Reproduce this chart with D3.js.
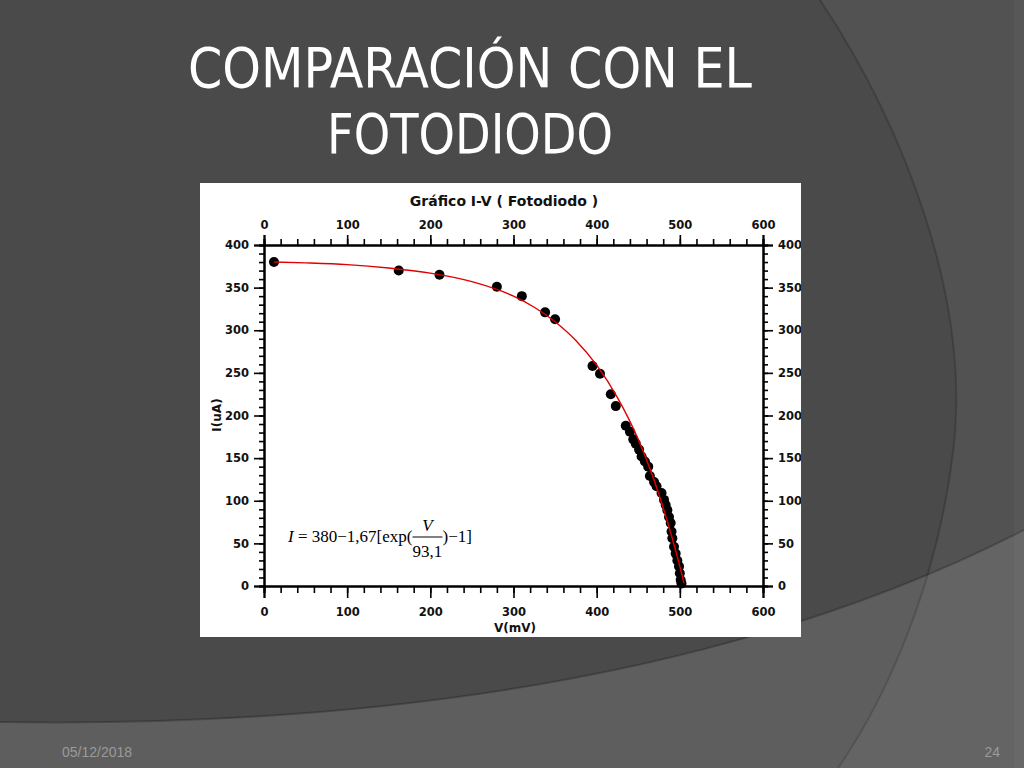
<!DOCTYPE html>
<html><head><meta charset="utf-8">
<script src="https://cdn.jsdelivr.net/npm/d3@7"></script>
<style>html,body{margin:0;padding:0;background:#4b4b4b;overflow:hidden}</style>
</head><body>
<svg id="c" width="1024" height="768"></svg>
<script>
// ---- data ----
const pointsV = [12, 162, 211, 280, 310, 338, 350, 395, 404, 417, 423, 435, 440, 444, 447, 451, 454, 458, 462, 464, 469, 472, 478, 481, 483, 485, 487, 489, 490, 491, 493, 495, 497, 499, 500, 501, 502];
const pointsI = [380, 370, 365, 351, 340, 321, 313, 258, 249, 225, 211, 188, 181, 172, 167, 160, 152, 146, 140, 129, 122, 117, 109, 101, 95, 89, 81, 74, 64, 56, 46, 38, 30, 23, 15, 7, 3];
const fitV = [12, 50, 100, 150, 200, 250, 300, 325, 350, 375, 400, 425, 450, 475, 490, 500, 505];
const fitI = [380, 379, 377, 373, 367, 357, 340, 327, 310, 288, 259, 221, 172, 107, 59, 23, 3];
const xTicks = [0, 100, 200, 300, 400, 500, 600];
const yTicks = [0, 50, 100, 150, 200, 250, 300, 350, 400];
const slideTitle = ["COMPARACIÓN CON EL", "FOTODIODO"];
const chartTitle = "Gráfico I-V ( Fotodiodo )";
const xLabel = "V(mV)";
const yLabel = "I(uA)";
const footerDate = "05/12/2018";
const footerPage = "24";

const svg = d3.select("#c");

// ---- slide background ----
svg.append("rect").attr("width",1024).attr("height",768).attr("fill","#4a4a4a");
const arcD = "M820,0 C900,120 975,300 952,460 C935,590 885,700 838,768";
svg.append("path").attr("d",arcD+" L1024,768 L1024,0 Z").attr("fill","#525252");
svg.append("path").attr("d",arcD).attr("fill","none").attr("stroke","rgba(0,0,0,0.18)").attr("stroke-width",2);
const bandD = "M0,722 C400,728 750,670 1024,530";
svg.append("path").attr("d",bandD+" L1024,768 L0,768 Z").attr("fill","#5e5e5e");
svg.append("path").attr("d",bandD).attr("fill","none").attr("stroke","rgba(0,0,0,0.22)").attr("stroke-width",2);
svg.append("clipPath").attr("id","band").append("path").attr("d",bandD+" L1024,768 L0,768 Z");
svg.append("path").attr("clip-path","url(#band)").attr("d",arcD+" L1024,768 L1024,0 Z").attr("fill","rgba(255,255,255,0.04)");
svg.append("path").attr("clip-path","url(#band)").attr("d",arcD).attr("fill","none").attr("stroke","rgba(0,0,0,0.15)").attr("stroke-width",2);
svg.append("rect").attr("x",1014).attr("y",0).attr("width",10).attr("height",768).attr("fill","rgba(255,255,255,0.03)");

// slide title
slideTitle.forEach((t,i)=>{
  svg.append("text").attr("x",470).attr("y",[87,153][i]).attr("text-anchor","middle")
    .attr("font-family","'DejaVu Sans Condensed','DejaVu Sans',sans-serif").attr("font-size",56)
    .attr("fill","#ffffff").attr("textLength",[564,286][i]).attr("lengthAdjust","spacingAndGlyphs").text(t);
});

// footer
svg.append("text").attr("x",62).attr("y",757).attr("font-family","'Liberation Sans',Arial,sans-serif").attr("font-size",14).attr("fill","#9a9a9a").text(footerDate);
svg.append("text").attr("x",1000).attr("y",757).attr("text-anchor","end").attr("font-family","'Liberation Sans',Arial,sans-serif").attr("font-size",14).attr("fill","#9a9a9a").text(footerPage);

// ---- chart panel ----
svg.append("clipPath").attr("id","panel").append("rect").attr("x",200).attr("y",183).attr("width",601).attr("height",454);
const g = svg.append("g").attr("clip-path","url(#panel)");
g.append("rect").attr("x",200).attr("y",183).attr("width",601).attr("height",454).attr("fill","#ffffff");

const x = d3.scaleLinear().domain([0,600]).range([264,763]);
const y = d3.scaleLinear().domain([0,400]).range([586,245]);
const font = "'DejaVu Sans',Verdana,sans-serif";

function styleAxis(sel){
  sel.select(".domain").attr("stroke","#000").attr("stroke-width",2);
  sel.selectAll(".tick line").attr("stroke","#000").attr("stroke-width",1.6);
  sel.selectAll("text").attr("font-family",font).attr("font-weight","bold").attr("font-size",11.5).attr("fill","#111");
}
const xMinor = d3.range(0,601,20), yMinor = d3.range(0,401,10);
// minor ticks
g.append("g").attr("transform",`translate(0,${y(0)})`).call(d3.axisBottom(x).tickValues(xMinor).tickSize(7).tickFormat("")).call(styleAxis);
g.append("g").attr("transform",`translate(0,${y(400)})`).call(d3.axisTop(x).tickValues(xMinor).tickSize(6).tickFormat("")).call(styleAxis);
g.append("g").attr("transform",`translate(${x(0)},0)`).call(d3.axisLeft(y).tickValues(yMinor).tickSize(5).tickFormat("")).call(styleAxis);
g.append("g").attr("transform",`translate(${x(600)},0)`).call(d3.axisRight(y).tickValues(yMinor).tickSize(5).tickFormat("")).call(styleAxis);
// major ticks
g.append("g").attr("transform",`translate(0,${y(0)})`).call(d3.axisBottom(x).tickValues(xTicks).tickSize(12).tickPadding(10).tickFormat(d3.format("d"))).call(styleAxis);
g.append("g").attr("transform",`translate(0,${y(400)})`).call(d3.axisTop(x).tickValues(xTicks).tickSize(10).tickPadding(6).tickFormat(d3.format("d"))).call(styleAxis);
g.append("g").attr("transform",`translate(${x(0)},0)`).call(d3.axisLeft(y).tickValues(yTicks).tickSize(10).tickPadding(5).tickFormat(d3.format("d"))).call(styleAxis);
g.append("g").attr("transform",`translate(${x(600)},0)`).call(d3.axisRight(y).tickValues(yTicks).tickSize(10).tickPadding(5).tickFormat(d3.format("d"))).call(styleAxis);

// titles
g.append("text").attr("x",504).attr("y",206).attr("text-anchor","middle").attr("font-family",font).attr("font-weight","bold").attr("font-size",14).attr("fill","#111").text(chartTitle);
g.append("text").attr("x",515).attr("y",632).attr("text-anchor","middle").attr("font-family",font).attr("font-weight","bold").attr("font-size",12).attr("fill","#111").text(xLabel);
g.append("text").attr("transform","translate(221,415) rotate(-90)").attr("text-anchor","middle").attr("font-family",font).attr("font-weight","bold").attr("font-size",12).attr("fill","#111").text(yLabel);

// data points
const pts = pointsV.map((v,i)=>({v, i: pointsI[i]}));
g.append("g").selectAll("circle").data(pts).join("circle")
  .attr("cx",d=>x(d.v)).attr("cy",d=>y(d.i)).attr("r",5).attr("fill","#000");

// fit line
const fit = fitV.map((v,i)=>({v, i: fitI[i]}));
g.append("path").datum(fit).attr("fill","none").attr("stroke","#e00000").attr("stroke-width",1.4)
  .attr("d",d3.line().x(d=>x(d.v)).y(d=>y(d.i)).curve(d3.curveMonotoneX));

// formula
const ff = "'Liberation Serif','Times New Roman',serif";
const fs = 17;
const f1 = g.append("text").attr("x",288).attr("y",542).attr("font-family",ff).attr("font-size",fs).attr("fill","#000");
f1.append("tspan").attr("font-style","italic").text("I");
f1.append("tspan").text(" = 380−1,67[exp(");
const w1 = f1.node().getComputedTextLength();
const fx = 288 + w1;
const fw = 30;
g.append("text").attr("x",fx+fw/2).attr("y",531).attr("text-anchor","middle").attr("font-family",ff).attr("font-style","italic").attr("font-size",fs).attr("fill","#000").text("V");
g.append("line").attr("x1",fx).attr("x2",fx+fw).attr("y1",537).attr("y2",537).attr("stroke","#000").attr("stroke-width",1);
g.append("text").attr("x",fx+fw/2).attr("y",557).attr("text-anchor","middle").attr("font-family",ff).attr("font-size",fs).attr("fill","#000").text("93,1");
g.append("text").attr("x",fx+fw).attr("y",542).attr("font-family",ff).attr("font-size",fs).attr("fill","#000").text(")−1]");
</script>
</body></html>
